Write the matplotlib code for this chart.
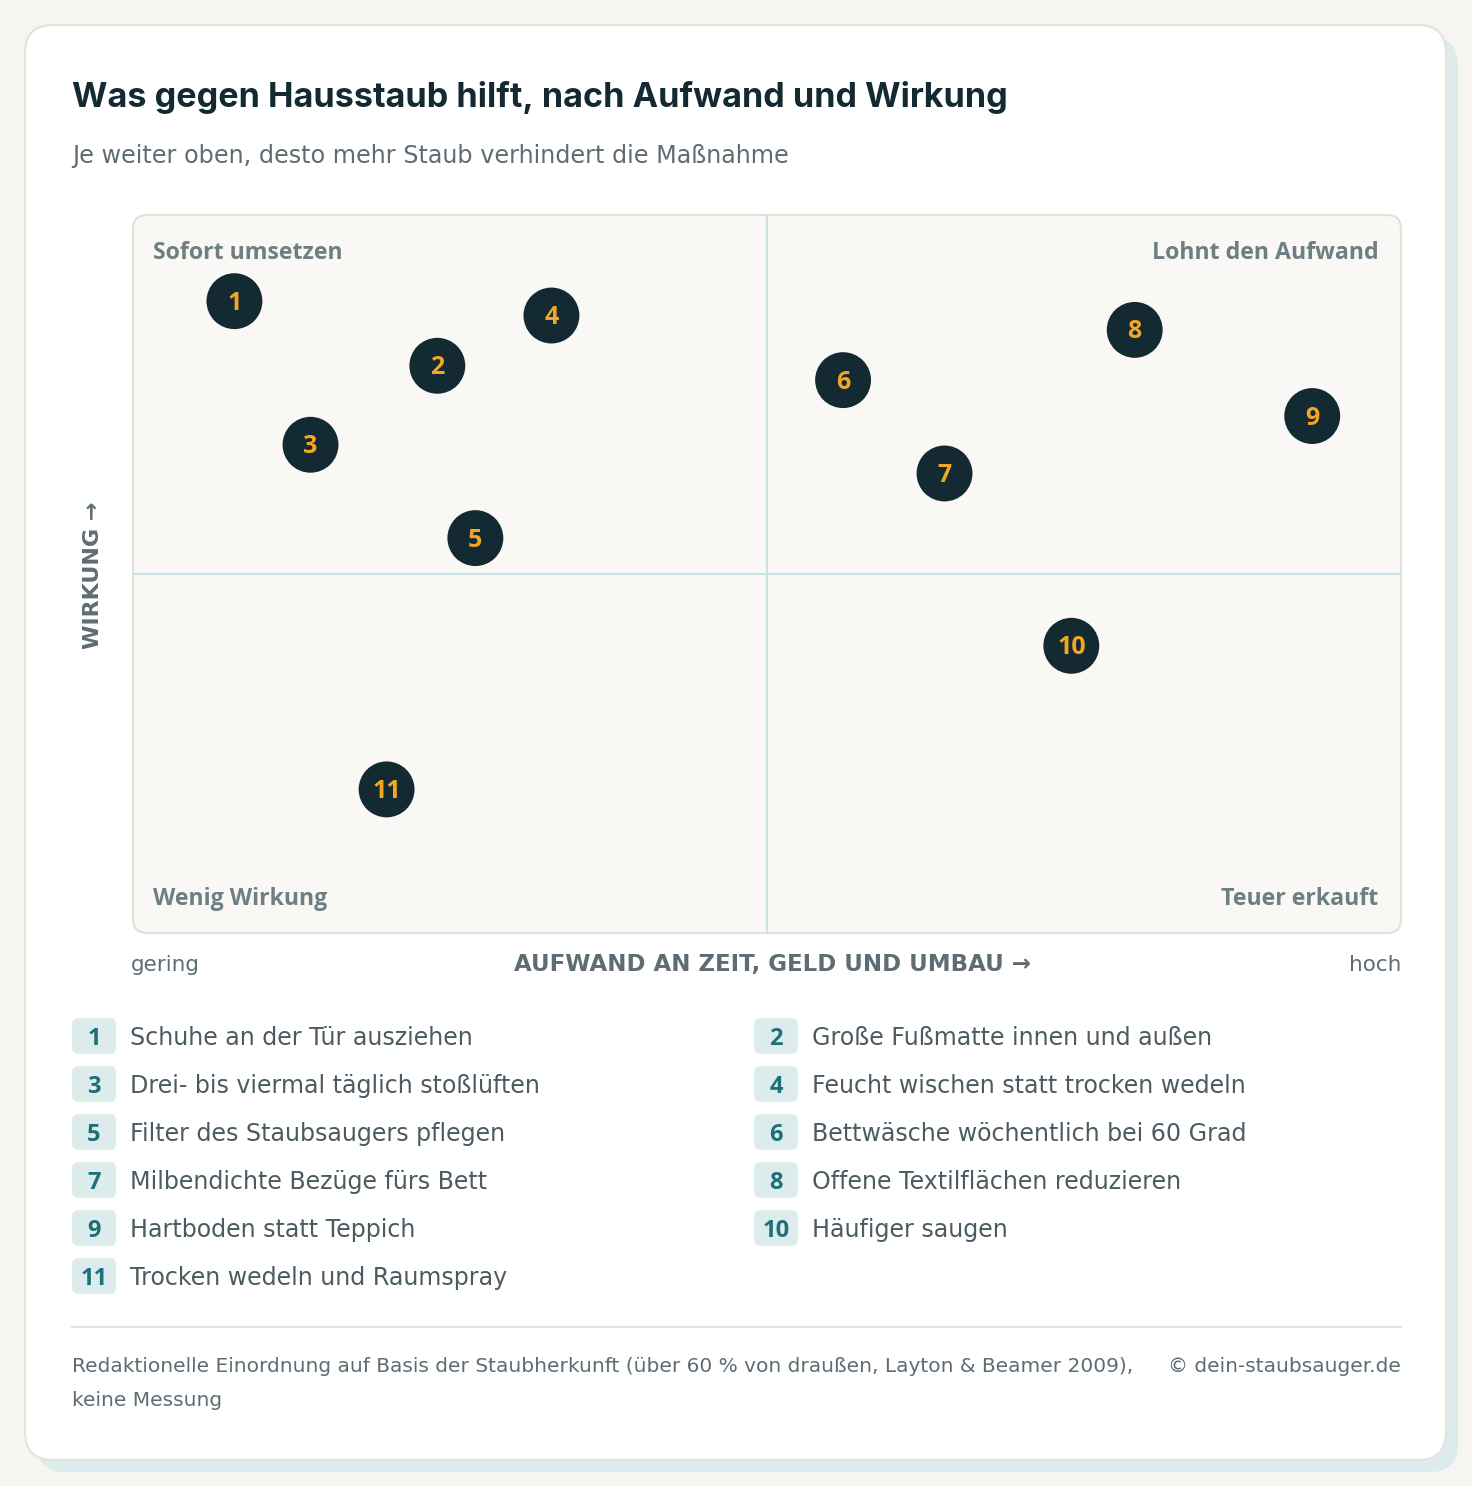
import numpy as np
import matplotlib.pyplot as plt
from matplotlib.patches import FancyBboxPatch

# Daten
ids = ['1', '2', '3', '4', '5', '6', '7', '8', '9', '10', '11']
aufwand = [8, 24, 14, 33, 27, 56, 64, 79, 93, 74, 20]
wirkung = [88, 79, 68, 86, 55, 77, 64, 84, 72, 40, 20]
massnahmen = [
    'Schuhe an der Tür ausziehen',
    'Große Fußmatte innen und außen',
    'Drei- bis viermal täglich stoßlüften',
    'Feucht wischen statt trocken wedeln',
    'Filter des Staubsaugers pflegen',
    'Bettwäsche wöchentlich bei 60 Grad',
    'Milbendichte Bezüge fürs Bett',
    'Offene Textilflächen reduzieren',
    'Hartboden statt Teppich',
    'Häufiger saugen',
    'Trocken wedeln und Raumspray',
]
quadranten = ['Sofort umsetzen', 'Lohnt den Aufwand', 'Wenig Wirkung', 'Teuer erkauft']

BG = '#f7f5f1'
DARK = '#132a32'
ORANGE = '#f5a524'
GREY = '#5d6d73'
QLABEL = '#6e7f84'
TEAL = '#1e6f7a'
BADGE = '#dcecec'
LINE = '#c9e1e5'
BODY = 'DejaVu Sans'

W, H = 1472, 1486
fig = plt.figure(figsize=(W / 100, H / 100), dpi=100)
fig.patch.set_facecolor(BG)

# Hintergrund-Achse in Pixelkoordinaten
bg = fig.add_axes([0, 0, 1, 1])
bg.set_xlim(0, W)
bg.set_ylim(H, 0)
bg.axis('off')

# Karte mit Schatten
bg.add_patch(FancyBboxPatch((37 + 28, 37 + 28), 1421 - 56, 1435 - 56,
                            boxstyle='round,pad=28', fc='#dcecec', ec='none', zorder=0))
bg.add_patch(FancyBboxPatch((25 + 28, 25 + 28), 1421 - 56, 1435 - 56,
                            boxstyle='round,pad=28', fc='white', ec='#e4e2dc', lw=1.5, zorder=1))

# Plotfläche
bg.add_patch(FancyBboxPatch((133 + 14, 215 + 14), 1268 - 28, 718 - 28,
                            boxstyle='round,pad=14', fc='#f9f8f5', ec='#e2e0da', lw=1.5, zorder=2))

bg.text(72, 98, 'Was gegen Hausstaub hilft, nach Aufwand und Wirkung', fontsize=24.6,
        fontweight='bold', color=DARK, family='Inter', va='center', ha='left', zorder=3)
bg.text(72, 156, 'Je weiter oben, desto mehr Staub verhindert die Maßnahme', fontsize=17.2,
        color=GREY, family=BODY, va='center', ha='left', zorder=3)

# Achsenbeschriftungen
bg.text(93, 575, 'WIRKUNG →', rotation=90, fontsize=16, fontweight='bold', color=GREY,
        family='DejaVu Sans', va='center', ha='center', zorder=3)
bg.text(131, 965, 'gering', fontsize=15.5, color=GREY, family=BODY, va='center', ha='left', zorder=3)
bg.text(1401, 965, 'hoch', fontsize=15.5, color=GREY, family=BODY, va='center', ha='right', zorder=3)
bg.text(772, 965, 'AUFWAND AN ZEIT, GELD UND UMBAU →', fontsize=16.5, fontweight='bold', color=GREY,
        family='DejaVu Sans', va='center', ha='center', zorder=3)

# Legende
for i, (num, txt) in enumerate(zip(ids, massnahmen)):
    col, row = i % 2, i // 2
    x0 = 72 + col * 682
    y0 = 1036 + row * 48
    bg.add_patch(FancyBboxPatch((x0 + 7, y0 - 18 + 7), 44 - 14, 36 - 14,
                                boxstyle='round,pad=7', fc=BADGE, ec='none', zorder=3))
    bg.text(x0 + 22, y0 + 3, num, fontsize=17, fontweight='bold', color=TEAL,
            family='Open Sans', va='center', ha='center', zorder=4)
    bg.text(x0 + 58, y0 + 2, txt, fontsize=17.1, color='#4b5b61', family=BODY,
            va='center', ha='left', zorder=4)

# Fußzeile
bg.plot([72, 1401], [1327, 1327], color='#e4e2dc', lw=1.5, zorder=3)
bg.text(72, 1366, 'Redaktionelle Einordnung auf Basis der Staubherkunft (über 60 % von draußen, Layton & Beamer 2009),',
        fontsize=14.5, color=GREY, family=BODY, va='center', ha='left', zorder=3)
bg.text(72, 1400, 'keine Messung', fontsize=14.5, color=GREY, family=BODY,
        va='center', ha='left', zorder=3)
bg.text(1401, 1366, '© dein-staubsauger.de', fontsize=14.5, color=GREY, family=BODY,
        va='center', ha='right', zorder=3)

# Streudiagramm
ax = fig.add_axes([133 / W, 1 - 933 / H, 1268 / W, 718 / H])
ax.set_xlim(0, 100)
ax.set_ylim(0, 100)
ax.patch.set_alpha(0)
ax.axis('off')
ax.axvline(50, color=LINE, lw=1.5, zorder=1)
ax.axhline(50, color=LINE, lw=1.5, zorder=1)

ax.scatter(aufwand, wirkung, s=1620, color=DARK, edgecolors='none', zorder=3)
for num, xv, yv in zip(ids, aufwand, wirkung):
    ax.annotate(num, (xv, yv), xytext=(0, -1.5), textcoords='offset points',
                fontsize=18, fontweight='bold', color=ORANGE,
                family='Open Sans', va='center', ha='center', zorder=4)

qpos = [(0.016, 0.947, 'left'), (0.982, 0.947, 'right'),
        (0.016, 0.048, 'left'), (0.982, 0.048, 'right')]
for lab, (qx, qy, qha) in zip(quadranten, qpos):
    ax.text(qx, qy, lab, transform=ax.transAxes, fontsize=16.7, fontweight='bold',
            color=QLABEL, family='Open Sans', va='center', ha=qha, zorder=4)

fig.savefig('out.png', dpi=100, facecolor=BG)
